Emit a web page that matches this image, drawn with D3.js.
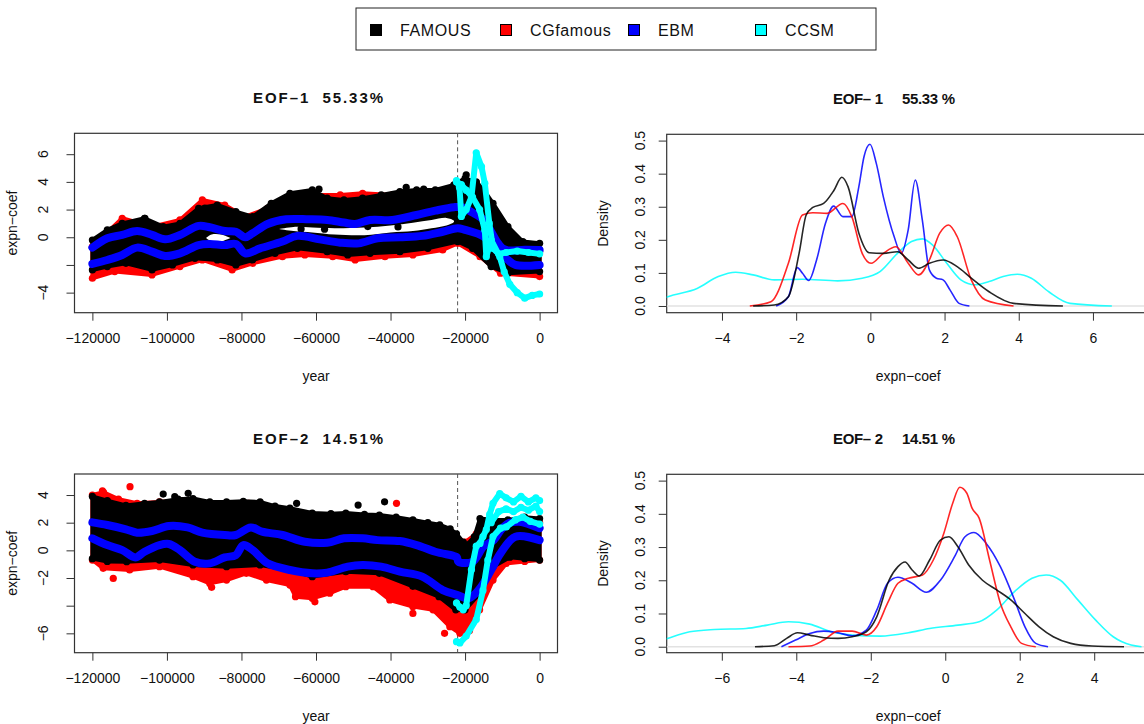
<!DOCTYPE html>
<html>
<head>
<meta charset="utf-8">
<script src="https://cdn.jsdelivr.net/npm/d3@7"></script>
<style>
  body { margin: 0; background: #fff; }
  text { font-family: "Liberation Sans", Arial, Helvetica, sans-serif; fill: #111; }
</style>
</head>
<body>
<svg id="chart" width="1144" height="724"></svg>
<script>
// Legend / series
var seriesNames = ["FAMOUS", "CGfamous", "EBM", "CCSM"];
var seriesColors = ["#000000", "#ff0000", "#0000ff", "#00ffff"];

// Panel titles
var timeTitles = ["EOF\u20131  55.33%", "EOF\u20132  14.51%"];
var densTitles = ["EOF\u2013 1     55.33 %", "EOF\u2013 2     14.51 %"];

// Tick values
var yearTicks = [-120000, -100000, -80000, -60000, -40000, -20000, 0];
var eof1Ticks = [-4, -2, 0, 2, 4, 6];
var eof1Labels = [-4, 0, 2, 4, 6];
var eof2Ticks = [-6, -4, -2, 0, 2, 4];
var eof2Labels = [-6, -2, 0, 2, 4];
var dens1XTicks = [-4, -2, 0, 2, 4, 6];
var dens2XTicks = [-6, -4, -2, 0, 2, 4];
var densYTicks = [0, 0.1, 0.2, 0.3, 0.4, 0.5];
var lgmYear = -22000;

// ---- EOF-1 time series (envelopes of the point clouds, [year, value]) ----
var famous1Upper = [[-120000,-0.2],[-116000,0.53],[-112000,1.0],[-106000,1.37],[-101000,0.77],[-96500,1.0],[-91500,2.09],[-86500,2.33],[-81500,1.85],[-77000,1.49],[-72000,2.45],[-67000,3.18],[-61000,3.42],[-57000,2.82],[-52500,2.7],[-47500,2.82],[-42500,3.06],[-37500,3.3],[-33000,3.42],[-28000,3.42],[-23000,3.78],[-20000,4.26],[-17000,4.0],[-15000,3.42],[-12500,2.45],[-8500,0.77],[-4500,-0.31],[0,-0.44]];
var famous1Lower = [[-120000,-2.36],[-116000,-2.12],[-111000,-1.88],[-104000,-2.36],[-98500,-2.0],[-92500,-1.52],[-86500,-1.64],[-81500,-2.0],[-77000,-1.64],[-71000,-1.16],[-65000,-0.8],[-57000,-1.04],[-51500,-1.28],[-45500,-1.16],[-37500,-1.04],[-30000,-0.8],[-22000,-0.31],[-18000,-0.8],[-13000,-2.12],[-8500,-2.6],[0,-2.48]];
var cg1Upper = [[-120000,-0.68],[-112000,1.37],[-104000,0.77],[-96500,1.25],[-90500,2.7],[-84500,2.33],[-79000,1.49],[-73000,2.09],[-67000,2.82],[-61000,3.06],[-53500,3.06],[-47500,3.18],[-39500,3.06],[-32000,3.06],[-24000,3.3],[-20000,3.42],[-15000,1.97],[-10500,0.05],[0,-1.04]];
var cg1Lower = [[-120000,-2.96],[-114000,-2.48],[-104000,-2.72],[-96500,-2.12],[-90500,-1.64],[-82500,-2.36],[-77000,-1.88],[-69000,-1.4],[-63000,-1.28],[-55500,-1.4],[-49500,-1.64],[-41500,-1.4],[-34000,-1.28],[-26000,-0.92],[-22000,-0.44],[-16000,-1.4],[-10500,-2.6],[0,-2.84]];
var ebm1Upper = [[-120000,-0.75],[-116000,-0.07],[-112000,0.17],[-108000,0.45],[-104000,0.17],[-100500,-0.15],[-96500,0.17],[-91500,0.82],[-88500,0.72],[-84500,0.45],[-81500,0.4],[-79000,0],[-77000,0.29],[-73000,0.96],[-68000,1.3],[-62000,1.3],[-57000,1.25],[-52500,1.06],[-49500,0.96],[-45500,1.25],[-39500,1.25],[-33000,1.61],[-28000,1.92],[-23000,2.17],[-21000,2.17],[-18000,1.78],[-15000,1.25],[-13000,0.4],[-11500,-0.3],[-10000,-0.8],[-8500,-0.95],[-4000,-0.9],[0,-0.92]];
var ebm1Lower = [[-120000,-1.93],[-116000,-1.64],[-112000,-1.28],[-108000,-0.75],[-104000,-1.04],[-100500,-1.35],[-96500,-1.16],[-91500,-0.56],[-88500,-0.48],[-84500,-0.56],[-81500,-0.48],[-79000,-1.16],[-75000,-0.8],[-69000,-0.31],[-65000,0.1],[-59000,-0.15],[-53500,-0.39],[-48500,-0.44],[-43500,-0.07],[-37500,0],[-31500,0.1],[-26000,0.4],[-22000,0.65],[-20000,0.53],[-15000,0.05],[-12500,-0.68],[-8500,-1.64],[-6500,-2.0],[0,-2.0]];
var ccsm1A = [[-22300,4.1],[-21500,3.6],[-21000,1.5],[-19700,2.0],[-18300,2.9],[-17000,6.1],[-15600,5.1],[-14700,3.9],[-13500,1.0],[-12500,-0.8],[-11000,-1.2],[-9000,-1.1],[-6000,-1.0],[-3000,-1.1],[0,-1.2]];
var ccsm1B = [[-22300,4.0],[-21000,3.8],[-19700,3.4],[-18000,2.9],[-16100,2.0],[-14700,0.5],[-14300,-1.4],[-13000,-0.2],[-10700,-1.4],[-9500,-2.5],[-8000,-3.4],[-6000,-4.0],[-4000,-4.4],[-2000,-4.2],[0,-4.1]];
var famous1Out = [[-105900,1.37],[-89800,2.1],[-59200,3.47],[-35800,3.6],[-31100,3.47],[-19700,4.5],[-17000,3.95],[-57700,0.58],[-46100,0.77],[-64000,0.6],[-38000,0.75]];
// empty bands between the two point clouds: [year, low, high]
var gap1A = [[-89500,-0.05,-0.05],[-88000,-0.3,0.2],[-85500,-0.3,0.2],[-83000,-0.05,-0.05]];
var gap1B = [[-70000,0.6,0.6],[-66000,0.45,0.75],[-61000,0.35,0.7],[-55000,0.2,0.65],[-47000,0.15,0.7],[-40000,0.35,0.85],[-34000,0.45,1.05],[-29000,0.65,1.25],[-25000,0.85,1.4],[-23000,1.1,1.2]];

// ---- EOF-2 time series ----
var famous2Upper = [[-120000,3.9],[-116000,3.6],[-111000,3.25],[-106000,3.4],[-102000,3.5],[-97000,3.7],[-93000,3.75],[-88500,3.5],[-84000,3.5],[-79500,3.55],[-75000,3.5],[-71000,3.2],[-67000,3.05],[-61000,2.7],[-56000,2.65],[-52000,2.7],[-47000,2.6],[-43000,2.55],[-38500,2.4],[-34000,2.2],[-30000,2.0],[-26800,1.85],[-24000,1.55],[-22300,1.2],[-20500,0.6],[-19500,0.4],[-17500,1.0],[-16000,2.3],[-12500,2.2],[-8500,2.2],[-4000,2.4],[0,2.3]];
var famous2Lower = [[-120000,-0.6],[-116000,-0.8],[-110800,-0.82],[-102000,-0.7],[-93000,-1.06],[-84000,-1.18],[-75000,-1.06],[-67000,-1.42],[-61000,-1.9],[-52000,-1.54],[-43000,-1.66],[-34000,-2.6],[-27000,-3.35],[-22500,-4.3],[-20000,-4.3],[-16000,-3.1],[-12500,-1.18],[-8000,-0.5],[-4000,-0.6],[0,-0.7]];
var cg2Upper = [[-120000,4.0],[-117000,4.2],[-113000,3.7],[-108000,3.4],[-102000,3.5],[-96000,3.6],[-90000,3.3],[-84000,3.2],[-78000,3.4],[-72000,3.0],[-66000,2.8],[-60000,2.5],[-54000,2.3],[-48000,2.4],[-42000,2.3],[-36000,2.1],[-30000,1.9],[-26000,1.5],[-23000,1.0],[-20000,0.6],[-17000,1.2],[-14000,1.5],[-10000,1.8],[-5000,1.9],[0,2.0]];
var cg2Lower = [[-120000,-0.7],[-117100,-1.3],[-110000,-1.42],[-102000,-1.18],[-93000,-1.9],[-88500,-2.39],[-84000,-2.15],[-78700,-1.66],[-73300,-2.15],[-67000,-2.51],[-65500,-3.35],[-61000,-3.47],[-56300,-3.1],[-52000,-2.63],[-44700,-2.63],[-40200,-3.59],[-34000,-4.07],[-28600,-4.3],[-24100,-5.52],[-21400,-6.0],[-18800,-5.8],[-16100,-4.3],[-12500,-2.15],[-8900,-0.94],[-4000,-0.8],[0,-0.7]];
var ebm2Upper = [[-120000,2.02],[-116000,1.83],[-111000,1.52],[-108000,1.28],[-104000,1.4],[-99500,1.76],[-94500,1.66],[-90500,1.28],[-84500,1.11],[-81500,1.11],[-77500,1.66],[-74500,1.35],[-69000,1.11],[-63000,0.62],[-57000,0.55],[-52500,0.87],[-47500,0.87],[-43500,0.74],[-37500,0.67],[-33000,0.38],[-28000,-0.1],[-23000,-0.41],[-22200,-0.5],[-21800,-0.82],[-18000,-0.82],[-15000,0.3],[-12300,0.74],[-10300,1.5],[-8400,1.95],[-5500,2.07],[0,1.6]];
var ebm2Lower = [[-120000,0.87],[-116000,0.38],[-112000,0.02],[-108500,-0.51],[-106000,-0.1],[-102000,0.38],[-99500,0.46],[-96500,0.02],[-92500,-0.82],[-88500,-0.94],[-84500,-0.51],[-81500,-0.34],[-79500,0.38],[-77000,0.02],[-73000,-0.94],[-67000,-1.42],[-61000,-1.66],[-57000,-1.61],[-51500,-1.18],[-47500,-1.06],[-42500,-1.18],[-37500,-1.54],[-31500,-1.9],[-26000,-2.87],[-22000,-3.23],[-19000,-3.47],[-16000,-2.75],[-13000,-1.42],[-10500,-0.22],[-6500,0.99],[0,0.74]];
var ccsm2A = [[-22300,-3.8],[-21400,-4.1],[-20500,-4.3],[-19700,-4.0],[-18300,-1.4],[-17000,0.3],[-16000,0.5],[-15200,1.0],[-14300,1.5],[-13400,2.6],[-12500,3.4],[-10700,4.1],[-9000,3.8],[-7000,3.5],[-5000,3.9],[-3000,3.5],[-1000,3.8],[0,3.6]];
var ccsm2B = [[-22300,-6.6],[-21400,-6.7],[-19700,-6.2],[-17000,-5.0],[-15200,-2.9],[-13900,-0.7],[-12500,1.0],[-10500,1.6],[-8900,1.7],[-6500,2.2],[-4500,2.4],[-2500,2.1],[0,1.9]];
var ccsm2C = [[-13000,2.0],[-11000,2.8],[-9000,3.0],[-7000,2.8],[-5000,3.1],[-3000,2.9],[-1000,3.2],[0,2.8]];
var famous2Out = [[-101000,4.07],[-94300,4.12],[-97900,3.88],[-65200,3.4],[-41600,3.51],[-48700,3.27]];
var cg2Out = [[-117300,4.31],[-109900,4.6],[-114400,-2.03],[-88000,-2.67],[-60300,-3.72],[-34000,-4.56],[-25500,-6.0],[-38400,3.4]];

// ---- Densities of the expansion coefficients, [coef, density] ----
var dens1Famous = [[-3.16,0],[-2.59,0.003],[-2.21,0.028],[-1.92,0.16],[-1.73,0.275],[-1.55,0.298],[-1.26,0.31],[-0.98,0.35],[-0.77,0.389],[-0.6,0.36],[-0.31,0.22],[-0.03,0.161],[0.35,0.159],[0.73,0.164],[1.02,0.139],[1.3,0.114],[1.59,0.129],[1.96,0.139],[2.34,0.119],[2.72,0.084],[3.2,0.043],[3.86,0.008],[5.19,0]];
var dens1Cg = [[-3.25,0],[-2.68,0.013],[-2.21,0.129],[-1.83,0.275],[-1.55,0.282],[-1.17,0.28],[-0.74,0.31],[-0.5,0.27],[-0.22,0.159],[0.02,0.129],[0.35,0.159],[0.69,0.179],[1.02,0.129],[1.3,0.094],[1.59,0.139],[1.87,0.22],[2.11,0.245],[2.34,0.21],[2.72,0.079],[3.1,0.018],[3.86,0]];
var dens1Ebm = [[-2.54,0],[-2.21,0.028],[-1.97,0.116],[-1.83,0.099],[-1.66,0.077],[-1.45,0.139],[-1.21,0.25],[-0.99,0.302],[-0.74,0.27],[-0.5,0.27],[-0.31,0.361],[-0.17,0.452],[-0.01,0.489],[0.16,0.431],[0.35,0.33],[0.64,0.21],[0.83,0.159],[1.02,0.23],[1.21,0.381],[1.4,0.26],[1.59,0.109],[1.78,0.084],[1.96,0.079],[2.15,0.048],[2.39,0.008],[2.67,0]];
var dens1Ccsm = [[-5.6,0.022],[-5.46,0.028],[-4.67,0.053],[-4.1,0.089],[-3.63,0.102],[-3.16,0.094],[-2.59,0.079],[-1.83,0.081],[-0.88,0.076],[-0.22,0.084],[0.26,0.104],[0.73,0.159],[1.11,0.195],[1.4,0.203],[1.68,0.184],[2.06,0.129],[2.44,0.079],[2.82,0.064],[3.2,0.074],[3.58,0.089],[3.96,0.096],[4.34,0.084],[4.81,0.043],[5.38,0.008],[6.51,0]];
var dens2Famous = [[-5.11,0],[-4.59,0.003],[-4.26,0.025],[-3.97,0.042],[-3.64,0.035],[-3.26,0.027],[-2.88,0.025],[-2.5,0.03],[-2.12,0.045],[-1.84,0.09],[-1.51,0.2],[-1.27,0.241],[-1.08,0.255],[-0.89,0.231],[-0.7,0.213],[-0.42,0.261],[-0.13,0.321],[0.1,0.331],[0.34,0.301],[0.63,0.246],[1.0,0.2],[1.38,0.171],[1.76,0.141],[2.14,0.1],[2.52,0.06],[2.9,0.03],[3.37,0.01],[3.94,0.002],[4.8,0]];
var dens2Cg = [[-4.21,0],[-3.64,0.002],[-3.26,0.02],[-2.88,0.047],[-2.5,0.047],[-2.12,0.035],[-1.84,0.06],[-1.55,0.131],[-1.27,0.191],[-0.99,0.206],[-0.61,0.216],[-0.32,0.261],[-0.04,0.341],[0.2,0.432],[0.39,0.48],[0.58,0.462],[0.72,0.417],[0.91,0.387],[1.19,0.261],[1.48,0.131],[1.76,0.06],[2.05,0.01],[2.43,0]];
var dens2Ebm = [[-4.4,0],[-4.02,0.02],[-3.64,0.04],[-3.26,0.047],[-2.88,0.042],[-2.5,0.033],[-2.12,0.05],[-1.84,0.11],[-1.55,0.191],[-1.27,0.209],[-0.89,0.191],[-0.51,0.164],[-0.13,0.2],[0.25,0.271],[0.53,0.331],[0.77,0.344],[1.1,0.311],[1.48,0.241],[1.86,0.141],[2.14,0.06],[2.43,0.01],[2.76,0]];
var dens2Ccsm = [[-7.6,0.02],[-7.46,0.025],[-6.86,0.045],[-6.2,0.052],[-5.35,0.055],[-4.78,0.065],[-4.21,0.075],[-3.64,0.068],[-3.07,0.045],[-2.5,0.035],[-1.74,0.032],[-0.99,0.042],[-0.42,0.055],[0.34,0.065],[0.91,0.075],[1.38,0.11],[1.86,0.166],[2.33,0.206],[2.71,0.216],[3.09,0.2],[3.56,0.141],[4.04,0.08],[4.51,0.03],[4.99,0.005],[5.27,0]];

var minus = function (v) { return String(v).replace("-", "\u2212"); };

var svg = d3.select("#chart");
var defs = svg.append("defs");

// Scales for the four panels
var xYear = d3.scaleLinear().domain([-124800, 4800]).range([74.5, 557.5]);
var yEof1 = d3.scaleLinear().domain([-5.45, 7.51]).range([312.7, 133.3]);
var yEof2 = d3.scaleLinear().domain([-7.4, 5.52]).range([652.7, 474]);
var xDens1 = d3.scaleLinear().domain([-5.49, 7.53]).range([666.7, 1149.7]);
var xDens2 = d3.scaleLinear().domain([-7.48, 5.49]).range([666.7, 1149.7]);
var yDens1 = d3.scaleLinear().domain([-0.0203, 0.519]).range([312.7, 134.3]);
var yDens2 = d3.scaleLinear().domain([-0.018, 0.519]).range([652.7, 474.3]);

// Frame, axes and labels shared by every panel
function panelFrame(id, x, y, xTicks, yTicks, yLabels, yLabFmt, title, titleX, titleW, xTitle, yTitle, yLabX, yTitleX) {
  var x0 = x.range()[0], x1 = x.range()[1], yb = y.range()[0], yt = y.range()[1];
  defs.append("clipPath").attr("id", id)
    .append("rect").attr("x", x0).attr("y", yt).attr("width", x1 - x0).attr("height", yb - yt);

  var gx = svg.append("g")
    .attr("transform", "translate(0," + yb + ")")
    .call(d3.axisBottom(x).tickValues(xTicks).tickSize(8).tickPadding(12).tickFormat(minus));
  gx.select(".domain").remove();
  gx.attr("font-family", null).attr("font-size", 14);
  gx.selectAll("line").attr("stroke", "#333");

  var gy = svg.append("g")
    .attr("transform", "translate(" + x0 + ",0)")
    .call(d3.axisLeft(y).tickValues(yTicks).tickSize(8).tickFormat(""));
  gy.select(".domain").remove();
  gy.selectAll("line").attr("stroke", "#333");

  // y tick labels are written parallel to the axis
  svg.append("g").selectAll("text")
    .data(yLabels)
    .enter().append("text")
    .attr("transform", function (d) { return "translate(" + yLabX + "," + y(d) + ") rotate(-90)"; })
    .attr("text-anchor", "middle")
    .attr("font-size", 14)
    .text(function (d) { return yLabFmt(d); });

  svg.append("rect")
    .attr("x", x0).attr("y", yt).attr("width", x1 - x0).attr("height", yb - yt)
    .attr("fill", "none").attr("stroke", "#333").attr("stroke-width", 1.2);

  svg.append("text")
    .attr("x", titleX).attr("y", yt - 30)
    .attr("text-anchor", "middle")
    .attr("font-size", 15).attr("font-weight", "bold")
    .style("white-space", "pre")
    .attr("textLength", titleW).attr("lengthAdjust", "spacing")
    .text(title);

  svg.append("text")
    .attr("x", (x0 + Math.min(x1, 1149.7)) / 2).attr("y", yb + 68)
    .attr("text-anchor", "middle").attr("font-size", 14)
    .text(xTitle);

  svg.append("text")
    .attr("transform", "translate(" + yTitleX + "," + (yt + yb) / 2 + ") rotate(-90)")
    .attr("text-anchor", "middle").attr("font-size", 14)
    .text(yTitle);
}

// Point cloud drawn as its envelope with dotted edges
function cloud(g, x, y, upper, lower, color) {
  var pts = upper.concat(lower.slice().reverse());
  g.append("path")
    .attr("d", d3.line().x(function (d) { return x(d[0]); }).y(function (d) { return y(d[1]); })(pts) + "Z")
    .attr("fill", color).attr("stroke", color)
    .attr("stroke-width", 4).attr("stroke-linejoin", "round");
  dots(g, x, y, pts, color);
}

function dots(g, x, y, pts, color) {
  g.selectAll(null)
    .data(pts)
    .enter().append("circle")
    .attr("cx", function (d) { return x(d[0]); })
    .attr("cy", function (d) { return y(d[1]); })
    .attr("r", 3.6)
    .attr("fill", color);
}

function gap(g, x, y, band) {
  var pts = band.map(function (d) { return [d[0], d[2]]; })
    .concat(band.slice().reverse().map(function (d) { return [d[0], d[1]]; }));
  g.append("path")
    .attr("d", d3.line().x(function (d) { return x(d[0]); }).y(function (d) { return y(d[1]); })
      .curve(d3.curveCatmullRomClosed)(pts))
    .attr("fill", "#fff");
}

function thickLine(g, x, y, pts, color, w, curve) {
  g.append("path")
    .attr("d", d3.line().x(function (d) { return x(d[0]); }).y(function (d) { return y(d[1]); }).curve(curve)(pts))
    .attr("fill", "none").attr("stroke", color).attr("stroke-width", w)
    .attr("stroke-linecap", "round").attr("stroke-linejoin", "round");
}

function timePanel(id, y, famU, famL, cgU, cgL, ebmU, ebmL, ccsm, famOut, cgOut, gaps) {
  var g = svg.append("g").attr("clip-path", "url(#" + id + ")");
  g.append("line")
    .attr("x1", xYear(lgmYear)).attr("x2", xYear(lgmYear))
    .attr("y1", y.range()[1]).attr("y2", y.range()[0])
    .attr("stroke", "#555").attr("stroke-dasharray", "4,3");
  cloud(g, xYear, y, cgU, cgL, seriesColors[1]);
  dots(g, xYear, y, cgOut, seriesColors[1]);
  cloud(g, xYear, y, famU, famL, seriesColors[0]);
  gaps.forEach(function (b) { gap(g, xYear, y, b); });
  dots(g, xYear, y, famOut, seriesColors[0]);
  thickLine(g, xYear, y, ebmU, seriesColors[2], 8, d3.curveCatmullRom);
  thickLine(g, xYear, y, ebmL, seriesColors[2], 8, d3.curveCatmullRom);
  ccsm.forEach(function (c) {
    thickLine(g, xYear, y, c, seriesColors[3], 6, d3.curveLinear);
    dots(g, xYear, y, c, seriesColors[3]);
  });
}

function densPanel(id, x, y, curves) {
  var g = svg.append("g").attr("clip-path", "url(#" + id + ")");
  g.append("line")
    .attr("x1", x.range()[0]).attr("x2", x.range()[1])
    .attr("y1", y(0)).attr("y2", y(0))
    .attr("stroke", "#e2e2e2").attr("stroke-width", 1.5);
  var line = d3.line()
    .x(function (d) { return x(d[0]); })
    .y(function (d) { return y(d[1]); })
    .curve(d3.curveMonotoneX);
  [3, 2, 1, 0].forEach(function (i) {
    g.append("path")
      .attr("d", line(curves[i]))
      .attr("fill", "none")
      .attr("stroke", seriesColors[i])
      .attr("stroke-opacity", 0.85)
      .attr("stroke-width", 1.6);
  });
}

// EOF-1 / EOF-2 time series
panelFrame("c1", xYear, yEof1, yearTicks, eof1Ticks, eof1Labels, minus, timeTitles[0], 318, 130, "year", "expn\u2212coef", 48, 17);
timePanel("c1", yEof1, famous1Upper, famous1Lower, cg1Upper, cg1Lower, ebm1Upper, ebm1Lower, [ccsm1A, ccsm1B], famous1Out, [], [gap1A, gap1B]);
panelFrame("c2", xYear, yEof2, yearTicks, eof2Ticks, eof2Labels, minus, timeTitles[1], 318, 130, "year", "expn\u2212coef", 48, 17);
timePanel("c2", yEof2, famous2Upper, famous2Lower, cg2Upper, cg2Lower, ebm2Upper, ebm2Lower, [ccsm2B, ccsm2C, ccsm2A], famous2Out, cg2Out, []);

// Densities
var fmt1 = d3.format(".1f");
panelFrame("c3", xDens1, yDens1, dens1XTicks, densYTicks, densYTicks, fmt1, densTitles[0], 894, 122, "expn\u2212coef", "Density", 645, 608);
densPanel("c3", xDens1, yDens1, [dens1Famous, dens1Cg, dens1Ebm, dens1Ccsm]);
panelFrame("c4", xDens2, yDens2, dens2XTicks, densYTicks, densYTicks, fmt1, densTitles[1], 894, 122, "expn\u2212coef", "Density", 645, 608);
densPanel("c4", xDens2, yDens2, [dens2Famous, dens2Cg, dens2Ebm, dens2Ccsm]);

// Legend
var legendX = [376, 506, 634, 761];
var legend = svg.append("g");
legend.append("rect")
  .attr("x", 356).attr("y", 8).attr("width", 520).attr("height", 42)
  .attr("fill", "#fff").attr("stroke", "#222").attr("stroke-width", 1);
var item = legend.selectAll(".item")
  .data(seriesNames)
  .enter().append("g")
  .attr("class", "item")
  .attr("transform", function (d, i) { return "translate(" + legendX[i] + ",30)"; });
item.append("rect")
  .attr("x", -5.5).attr("y", -5.5).attr("width", 11).attr("height", 11)
  .attr("fill", function (d, i) { return seriesColors[i]; })
  .attr("stroke", "#000").attr("stroke-width", 1);
item.append("text")
  .attr("x", 24).attr("dy", "0.36em")
  .attr("font-size", 16).attr("letter-spacing", 0.6)
  .text(function (d) { return d; });
</script>
</body>
</html>
